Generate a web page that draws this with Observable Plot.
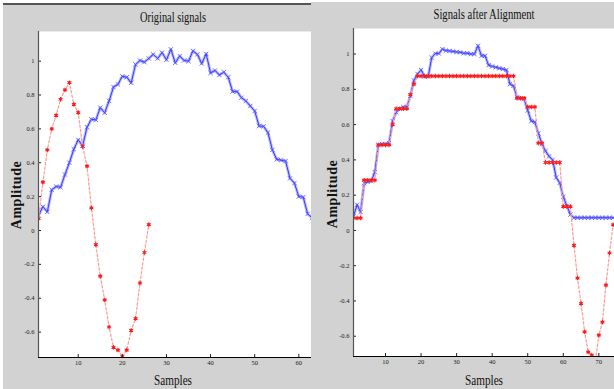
<!DOCTYPE html>
<html><head><meta charset="utf-8">
<script src="https://cdn.jsdelivr.net/npm/d3@7"></script>
<script src="https://cdn.jsdelivr.net/npm/@observablehq/plot@0.6"></script>
<style>
body{margin:0;width:614px;height:389px;position:relative;background:#fff;overflow:hidden}
.panel{position:absolute;background:#d2d2d2}
.panel svg{display:block}
.lbl{position:absolute;font-family:"Liberation Serif",serif;color:#111;white-space:nowrap;line-height:1}
</style></head><body>
<div style="position:absolute;left:3px;top:3px;width:309px;height:1.5px;background:#555"></div>
<div id="left" class="panel" style="left:3px;top:5px;width:309px;height:384px"></div>
<div id="right" class="panel" style="left:311px;top:2px;width:303px;height:387px"></div>
<div class="lbl" style="left:173px;top:18px;font-size:14px;transform:translate(-50%,-50%) scaleX(0.74)">Original signals</div>
<div class="lbl" style="left:483.5px;top:15px;font-size:14px;transform:translate(-50%,-50%) scaleX(0.76)">Signals after Alignment</div>
<div class="lbl" style="left:172.7px;top:381px;font-size:14px;transform:translate(-50%,-50%) scaleX(0.8)">Samples</div>
<div class="lbl" style="left:483.5px;top:381px;font-size:14px;transform:translate(-50%,-50%) scaleX(0.8)">Samples</div>
<div class="lbl" style="left:17px;top:195px;font-size:14px;font-weight:bold;letter-spacing:0.5px;transform:translate(-50%,-50%) rotate(-90deg)">Amplitude</div>
<div class="lbl" style="left:332.5px;top:194px;font-size:14px;font-weight:bold;letter-spacing:0.5px;transform:translate(-50%,-50%) rotate(-90deg)">Amplitude</div>
<script>
// ---- data ----
const originalBlue = [0.09,0.14,0.11,0.24,0.26,0.255,0.33,0.40,0.48,0.535,0.50,0.61,0.657,0.653,0.725,0.695,0.765,0.847,0.863,0.91,0.905,0.872,0.98,1.004,0.994,1.016,1.04,1.016,1.05,1.008,1.07,0.99,1.03,1.004,1.0,1.06,1.04,0.986,1.043,0.93,0.945,0.918,0.935,0.905,0.82,0.82,0.784,0.765,0.735,0.706,0.617,0.615,0.578,0.476,0.42,0.415,0.41,0.308,0.28,0.2,0.197,0.098,0.075];
const originalRed = [0.07,0.285,0.476,0.60,0.68,0.775,0.83,0.873,0.745,0.696,0.496,0.38,0.133,-0.084,-0.27,-0.41,-0.57,-0.69,-0.706,-0.745,-0.706,-0.59,-0.52,-0.31,-0.13,0.035];
const alignedBlue = [0.08,0.145,0.104,0.268,0.275,0.28,0.33,0.485,0.49,0.49,0.495,0.62,0.67,0.69,0.70,0.70,0.764,0.85,0.887,0.91,0.872,0.872,0.98,1.003,1.003,1.028,1.02,1.018,1.015,1.012,1.01,1.005,1.005,1.0,1.0,1.047,0.99,0.99,0.937,0.93,0.925,0.92,0.915,0.91,0.83,0.82,0.755,0.75,0.745,0.68,0.62,0.615,0.55,0.49,0.45,0.42,0.40,0.30,0.27,0.19,0.14,0.09,0.072,0.072,0.072,0.072,0.072,0.072,0.072,0.072,0.072,0.072,0.072,0.072];
const alignedRed = [0.07,0.07,0.07,0.285,0.285,0.285,0.285,0.485,0.485,0.485,0.485,0.60,0.69,0.69,0.69,0.69,0.77,0.83,0.875,0.875,0.875,0.875,0.875,0.875,0.875,0.875,0.875,0.875,0.875,0.875,0.875,0.875,0.875,0.875,0.875,0.875,0.875,0.875,0.875,0.875,0.875,0.875,0.875,0.875,0.875,0.875,0.75,0.75,0.75,0.70,0.70,0.70,0.495,0.495,0.385,0.385,0.385,0.385,0.385,0.135,0.135,0.135,-0.085,-0.27,-0.415,-0.575,-0.69,-0.707,-0.745,-0.594,-0.52,-0.31,-0.128,0.032];
const yTickValues = [-0.6,-0.4,-0.2,0,0.2,0.4,0.6,0.8,1];
const leftXTicks = [10,20,30,40,50,60];
const rightXTicks = [10,20,30,40,50,60,70];

const fmt = d => String(Math.round(d*10)/10);
const rows = arr => arr.map((v,i)=>({i:i+1, v}));

function panel({width, height, mL, mT, mB, xDomain, yDomain, xTicks, blue, red}) {
  const pw = width - mL, ph = height - mT - mB;
  const b = rows(blue), r = rows(red);
  return Plot.plot({
    width, height, marginLeft: mL, marginTop: mT, marginRight: 0, marginBottom: mB,
    style: {background: "transparent", fontFamily: "Liberation Serif", fontSize: "6.5px", overflow: "visible"},
    x: {domain: xDomain, label: null},
    y: {domain: yDomain, label: null},
    marks: [
      Plot.frame({fill: "white", stroke: null}),
      Plot.line(b, {x: "i", y: "v", stroke: "#b8bcff", strokeWidth: 3, clip: true}),
      Plot.line(b, {x: "i", y: "v", stroke: "#2a2aff", strokeWidth: 0.9, clip: true}),
      Plot.dot(b, {x: "i", y: "v", symbol: "times", r: 2.1, stroke: "#5050ff", strokeWidth: 0.8, clip: true}),
      Plot.line(r, {x: "i", y: "v", stroke: "#ff9a9a", strokeWidth: 1.2, strokeDasharray: "2.5,2", clip: true}),
      Plot.dot(r, {x: "i", y: "v", r: 1.2, fill: "#ff1a1a", clip: true}),
      Plot.dot(r, {x: "i", y: "v", symbol: "asterisk", r: 2.1, stroke: "#ff1a1a", strokeWidth: 1.1, clip: true}),
      Plot.axisX(xTicks, {label: null, tickSize: 0, tickPadding: 3, tickFormat: fmt, fill: "#222"}),
      Plot.tickX(xTicks, {x: d => d, insetTop: ph - 3, stroke: "#222"}),
      Plot.axisY(yTickValues, {label: null, tickSize: 0, tickPadding: 4, tickFormat: fmt, fill: "#222"}),
      Plot.tickY(yTickValues, {y: d => d, insetRight: pw - 3, stroke: "#222"}),
      Plot.ruleX([xDomain[0]], {stroke: "#555", strokeWidth: 1.2}),
      Plot.ruleY([yDomain[0]], {stroke: "#000", strokeWidth: 1})
    ]
  });
}

document.getElementById("left").append(panel({
  width: 309, height: 384, mL: 35, mT: 26, mB: 32,
  xDomain: [1, 63.1], yDomain: [-0.75, 1.175], xTicks: leftXTicks,
  blue: originalBlue, red: originalRed
}));
document.getElementById("right").append(panel({
  width: 303, height: 387, mL: 42, mT: 26, mB: 33,
  xDomain: [1, 74.4], yDomain: [-0.715, 1.145], xTicks: rightXTicks,
  blue: alignedBlue, red: alignedRed
}));
</script>
</body></html>
